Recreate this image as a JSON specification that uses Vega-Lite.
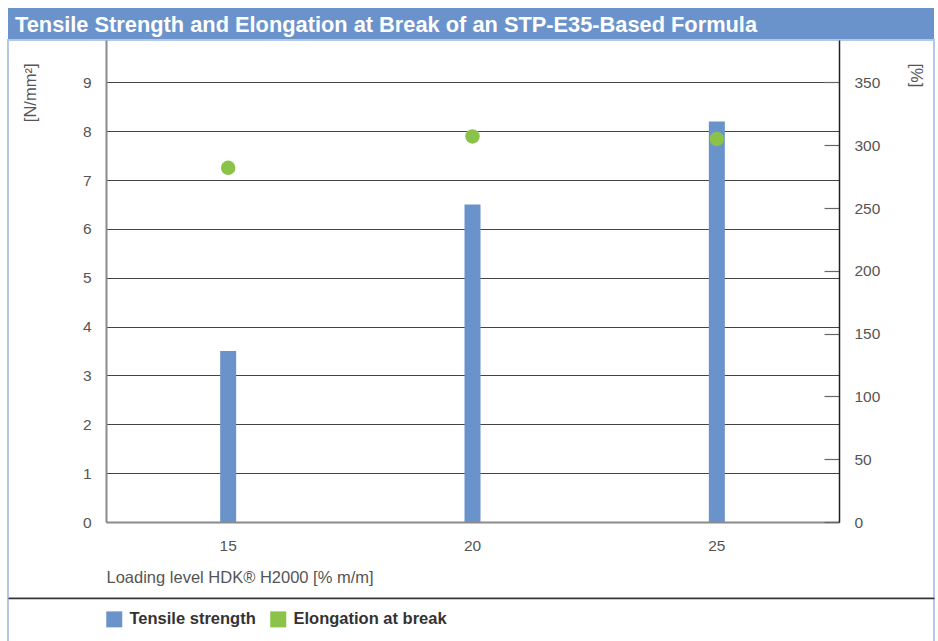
{
  "$schema": "https://vega.github.io/schema/vega-lite/v6.json",
  "background": "white",
  "padding": {"left": 7, "top": 8, "right": 0, "bottom": 0},
  "bounds": "flush",
  "spacing": 0,
  "datasets": {
    "main": [
      {"level": "15", "series": "Tensile strength", "value": 3.5},
      {"level": "20", "series": "Tensile strength", "value": 6.5},
      {"level": "25", "series": "Tensile strength", "value": 8.2},
      {"level": "15", "series": "Elongation at break", "value": 282},
      {"level": "20", "series": "Elongation at break", "value": 307},
      {"level": "25", "series": "Elongation at break", "value": 305}
    ],
    "heading": [
      {"label": "Tensile Strength and Elongation at Break of an STP-E35-Based Formula"}
    ]
  },
  "config": {
    "font": "Liberation Sans",
    "axis": {"labelFont": "Liberation Sans", "titleFont": "Liberation Sans", "labelColor": "#555555", "titleColor": "#555555", "labelFontSize": 15.5, "titleFontSize": 16.5, "titleFontWeight": "normal"}
  },
  "resolve": {"legend": {"color": "independent"}},
  "vconcat": [
    {
      "width": 926,
      "height": 32,
      "view": {"fill": "#6B93CB", "stroke": null},
      "data": {"name": "heading"},
      "mark": {"type": "text", "align": "left", "baseline": "alphabetic", "dx": 7, "dy": 8, "color": "white", "fontSize": 21.8, "fontWeight": "bold", "font": "Liberation Sans"},
      "encoding": {
        "x": {"datum": 0, "type": "quantitative", "scale": {"domain": [0, 1]}, "axis": null},
        "text": {"field": "label", "type": "nominal"}
      }
    },
    {
      "width": 926,
      "height": 558,
      "view": {"fill": "white", "stroke": "#B5C8E8", "strokeWidth": 2},
      "data": {"name": "main"},
      "encoding": {
        "x": {
          "field": "level",
          "type": "ordinal",
          "scale": {"range": [98, 831], "paddingInner": 0, "paddingOuter": 0},
          "axis": {
            "orient": "bottom",
            "offset": -76,
            "ticks": false,
            "labelAngle": 0,
            "labelBaseline": "alphabetic",
            "labelPadding": 28,
            "domainColor": "#8a8a8a",
            "domainWidth": 2,
            "grid": false,
            "title": "Loading level HDK® H2000 [% m/m]",
            "titleAnchor": "start",
            "titleAlign": "left",
            "titleBaseline": "alphabetic",
            "titleY": 60
          }
        }
      },
      "layer": [
        {
          "transform": [{"filter": "datum.series === 'Tensile strength'"}],
          "mark": {"type": "bar", "size": 16},
          "encoding": {
            "y": {
              "field": "value",
              "type": "quantitative",
              "scale": {"domain": [0, 9.87], "range": [482, 0], "nice": false, "zero": true},
              "axis": {
                "orient": "left",
                "offset": -98,
                "values": [0, 1, 2, 3, 4, 5, 6, 7, 8, 9],
                "ticks": false,
                "labelPadding": 15,
                "domainColor": "#8a8a8a",
                "domainWidth": 2,
                "grid": true,
                "gridColor": "#444444",
                "gridWidth": 1.2,
                "title": "[N/mm²]",
                "titleAngle": -90,
                "titleAlign": "right",
                "titleBaseline": "bottom",
                "titleX": -68,
                "titleY": 23
              }
            },
            "color": {
              "field": "series",
              "type": "nominal",
              "scale": {"domain": ["Tensile strength", "Elongation at break"], "range": ["#6B93CB", "#8BC34A"]},
              "legend": {
                "orient": "none",
                "legendX": 98,
                "legendY": 571,
                "direction": "horizontal",
                "title": null,
                "symbolType": "square",
                "symbolSize": 256,
                "symbolStrokeWidth": 0,
                "symbolOpacity": 1,
                "labelFont": "Liberation Sans",
                "labelFontSize": 16.5,
                "labelFontWeight": "bold",
                "labelColor": "#333333",
                "labelOffset": 7,
                "columnPadding": 14,
                "padding": 0
              }
            }
          }
        },
        {
          "transform": [{"filter": "datum.series === 'Elongation at break'"}],
          "mark": {"type": "point", "filled": true, "size": 210, "opacity": 1, "color": "#8BC34A", "strokeWidth": 0},
          "encoding": {
            "y": {
              "field": "value",
              "type": "quantitative",
              "scale": {"domain": [0, 383.8], "range": [482, 0], "nice": false, "zero": true},
              "axis": {
                "orient": "right",
                "offset": -95,
                "values": [0, 50, 100, 150, 200, 250, 300, 350],
                "grid": false,
                "ticks": true,
                "tickSize": -15,
                "tickColor": "#666666",
                "tickWidth": 1.2,
                "labelPadding": 30,
                "domainColor": "#222222",
                "domainWidth": 1.5,
                "title": "[%]",
                "titleAngle": 90,
                "titleAlign": "left",
                "titleBaseline": "bottom",
                "titleX": 68,
                "titleY": 23
              }
            }
          }
        }
      ],
      "resolve": {"scale": {"y": "independent"}}
    },
    {
      "width": 926,
      "height": 46,
      "view": {"fill": null, "stroke": "#B5C8E8", "strokeWidth": 2},
      "data": {"name": "main"},
      "mark": {"type": "point", "opacity": 0},
      "encoding": {
        "x": {
          "field": "level",
          "type": "ordinal",
          "axis": {"orient": "top", "labels": false, "ticks": false, "title": null, "grid": false, "domainColor": "#333333", "domainWidth": 1.5}
        }
      }
    }
  ]
}
